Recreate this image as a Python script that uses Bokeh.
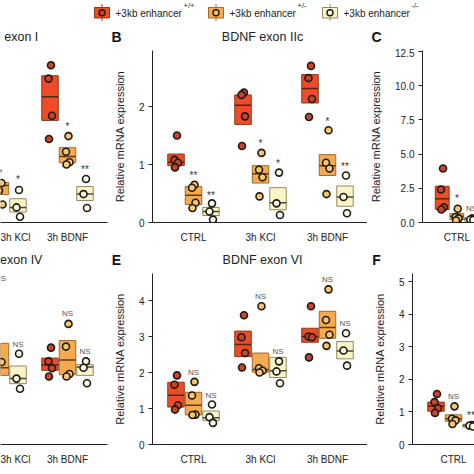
from bokeh.plotting import figure
from bokeh.models import Range1d, FixedTicker, PrintfTickFormatter
from bokeh.layouts import column, row
from bokeh.embed import file_html
from bokeh.resources import INLINE
from bokeh.core.properties import value

# ---------------- data ----------------
groups = ["CTRL", "3h KCl", "3h BDNF"]
genotypes = ["+/+", "+/-", "-/-"]
legend_text = "+3kb enhancer"
ylabel = "Relative mRNA expression"
titles = ["BDNF exon I", "BDNF exon IIc", "BDNF exon IV", "BDNF exon VI"]

# 9 columns per panel: CTRL(+/+,+/-,-/-), 3h KCl(...), 3h BDNF(...); None = outside the crop
A_lo = [None, None, None, None, 0.48, 0.18, 1.76, 1.03, 0.38]
A_hi = [None, None, None, None, 0.69, 0.41, 2.53, 1.29, 0.62]
A_mid = [None, None, None, None, 0.64, 0.26, 2.17, 1.14, 0.49]
A_pts = [[], [], [], [], [0.68, 0.55, 0.31], [0.56, 0.26, 0.10],
         [2.71, 2.48, 1.84, 1.44], [1.49, 1.22, 1.04, 1.00], [0.75, 0.49, 0.25]]
A_ann = [None, None, None, None, "*", "*", None, "*", "**"]
A_ann_y = [None, None, None, None, 0.90, 0.79, None, 1.70, 0.97]

B_lo = [0.98, 0.31, 0.12, 1.69, 0.68, 0.22, 2.06, 0.81, 0.28]
B_hi = [1.18, 0.62, 0.26, 2.20, 0.98, 0.60, 2.55, 1.17, 0.63]
B_mid = [1.04, 0.47, 0.19, 2.02, 0.84, 0.34, 2.31, 0.98, 0.44]
B_pts = [[1.50, 1.08, 1.03, 0.95], [0.65, 0.60, 0.34, 0.25], [0.33, 0.19, 0.05],
         [2.24, 2.20, 1.83, 1.32], [1.20, 0.91, 0.78, 0.45], [0.86, 0.33, 0.13],
         [2.70, 2.49, 2.13, 1.82], [1.59, 1.03, 0.93, 0.49], [0.81, 0.44, 0.16]]
B_ann = [None, "**", "**", None, "*", "*", None, "*", "**"]
B_ann_y = [None, 0.86, 0.52, None, 1.41, 1.07, None, 1.79, 1.01]

C_lo = [0.95, 0.22, 0.10, None, None, None, None, None, None]
C_hi = [2.65, 0.66, 0.35, None, None, None, None, None, None]
C_mid = [1.73, 0.46, 0.25, None, None, None, None, None, None]
C_pts = [[3.95, 2.41, 1.12, 0.95], [1.00, 0.40, 0.30, 0.15], [0.30, 0.22, 0.18],
         [], [], [], [], [], []]
C_ann = [None, "*", "NS", None, None, None, None, None, None]
C_ann_y = [None, 1.95, 1.00, None, None, None, None, None, None]

D_lo = [None, None, None, None, 1.92, 1.69, 2.06, 1.94, 1.92]
D_hi = [None, None, None, None, 2.81, 2.18, 2.40, 2.89, 2.22]
D_mid = [None, None, None, None, 2.13, 1.83, 2.21, 2.35, 2.15]
D_pts = [[], [], [], [], [2.29], [2.52, 1.83, 1.55],
         [2.69, 2.31, 2.12, 1.89], [3.35, 2.72, 1.96, 1.89], [2.31, 2.13, 1.70]]
D_ann = [None, None, None, None, "NS", "NS", None, "NS", "NS"]
D_ann_y = [None, None, None, None, 4.61, 2.77, None, 3.64, 2.58]

E_lo = [1.04, 0.82, 0.67, 2.44, 2.01, 1.86, 2.84, 2.95, 2.38]
E_hi = [1.73, 1.45, 0.93, 3.15, 2.54, 2.42, 3.23, 3.70, 2.86]
E_mid = [1.37, 1.09, 0.74, 2.78, 2.08, 2.05, 3.00, 3.25, 2.60]
E_pts = [[1.92, 1.66, 1.09, 0.97], [1.74, 1.36, 0.83, 0.82], [1.11, 0.76, 0.60],
         [3.59, 2.98, 2.54, 2.14], [3.84, 2.12, 2.05, 2.00], [2.31, 2.03, 1.70],
         [3.84, 3.00, 2.98, 2.42], [4.31, 3.46, 3.05, 2.74], [3.09, 2.61, 2.19]]
E_ann = [None, "NS", "NS", None, "NS", "NS", None, "NS", "NS"]
E_ann_y = [None, 1.99, 1.37, None, 4.10, 2.57, None, 4.58, 3.36]

F_lo = [1.02, 0.71, 0.53, None, None, None, None, None, None]
F_hi = [1.30, 0.91, 0.62, None, None, None, None, None, None]
F_mid = [1.17, 0.79, 0.58, None, None, None, None, None, None]
F_pts = [[1.55, 1.30, 1.11, 0.97], [1.17, 0.79, 0.74, 0.63], [0.60, 0.58, 0.55],
         [], [], [], [], [], []]
F_ann = [None, "NS", "**", None, None, None, None, None, None]
F_ann_y = [None, 1.48, 0.97, None, None, None, None, None, None]

B_ticks = [0, 1, 2]
C_ticks = [0, 2.5, 5, 7.5, 10, 12.5]
E_ticks = [0, 1, 2, 3, 4]
F_ticks = [0, 1, 2, 3, 4, 5]

# ---------------- styles ----------------
FONT = "Liberation Sans"
STY = [
    dict(box="#ef4b27", edge="#8a3a1e", med="#5a2412", pt="#c9442c"),
    dict(box="#f6aa4f", edge="#9a6a30", med="#5e3c16", pt="#f7c670"),
    dict(box="#fcf4c6", edge="#8c8a68", med="#4a483a", pt="#fffbe8"),
]
UNIT = 67.0            # px per group
OFF = 17.5 / UNIT      # genotype offset
BOXW = 16.5 / UNIT     # box width
JIT = [1.0, -1.5, 2.0, -1.0]   # px jitter pattern for points

COL_W = [110, 257, 107]          # figure widths per column
COL_BL = [0, 42, 45]             # left borders
COL_XS = [1.0, -41 / UNIT, -41 / UNIT]   # x range starts


def strip(h):
    s = figure(width=474, height=h, x_range=Range1d(0, 474), y_range=Range1d(h, 0),
               output_backend="svg", toolbar_location=None, min_border=0,
               x_axis_location=None, y_axis_location=None)
    s.outline_line_color = None
    s.grid.visible = False
    return s


def panel(lo, hi, mid, pts, ann, ann_y, col, ppu_y, height, bt, bb, yticks=None, fmt=None):
    width, bl = COL_W[col], COL_BL[col]
    br = 3 if col == 0 else 0
    x_start = COL_XS[col]
    fw = width - bl - br
    fh = height - bt - bb
    p = figure(width=width, height=height, x_range=Range1d(x_start, x_start + fw / UNIT),
               y_range=Range1d(0, fh / ppu_y), output_backend="svg", toolbar_location=None,
               min_border_left=bl, min_border_right=br, min_border_top=bt,
               min_border_bottom=bb, y_axis_location="left" if yticks else None)
    p.outline_line_color = None
    p.grid.visible = False
    p.background_fill_color = "white"
    p.border_fill_color = "white"

    xa = p.xaxis[0]
    xa.ticker = FixedTicker(ticks=[0, 1, 2])
    xa.major_label_overrides = {0: groups[0], 1: groups[1], 2: groups[2]}
    xa.major_tick_line_color = None
    xa.minor_tick_line_color = None
    xa.axis_line_color = "#222222"
    xa.major_label_text_font = FONT
    xa.major_label_text_font_size = "10px"
    xa.major_label_text_color = "#222222"
    xa.major_label_standoff = 3

    if yticks:
        ya = p.yaxis[0]
        ya.ticker = FixedTicker(ticks=yticks)
        if fmt:
            ya.formatter = PrintfTickFormatter(format=fmt)
        ya.minor_tick_line_color = None
        ya.major_tick_in = 0
        ya.major_tick_out = 4
        ya.axis_line_color = "#222222"
        ya.major_tick_line_color = "#222222"
        ya.major_label_text_font = FONT
        ya.major_label_text_font_size = "10px"
        ya.major_label_text_color = "#222222"
        ya.major_label_standoff = 4
        ya.axis_label = ylabel
        ya.axis_label_text_font = FONT
        ya.axis_label_text_font_style = "normal"
        ya.axis_label_text_font_size = "11px"
        ya.axis_label_text_color = "#222222"
        ya.axis_label_standoff = 10

    for k in range(9):
        if lo[k] is None and not pts[k]:
            continue
        g, s = divmod(k, 3)
        st = STY[s]
        x = g + (s - 1) * OFF
        if lo[k] is not None:
            p.vbar(x=[x], width=BOXW, bottom=[lo[k]], top=[hi[k]], fill_color=st["box"],
                   line_color=st["edge"], line_width=1)
            p.segment(x0=[x - BOXW / 2], x1=[x + BOXW / 2], y0=[mid[k]], y1=[mid[k]],
                      line_color=st["med"], line_width=1.5)
        xs = [x + JIT[i % len(JIT)] / UNIT for i in range(len(pts[k]))]
        p.scatter(x=xs, y=pts[k], size=7, marker="circle", fill_color=st["pt"],
                  line_color="#1e1a16", line_width=1.6)
        if ann[k]:
            is_star = "*" in ann[k]
            p.text(x=[x], y=[ann_y[k]], text=[ann[k]], text_align="center",
                   text_baseline="middle", text_font=value(FONT),
                   text_font_size=value("10px" if is_star else "8px"),
                   text_color=value("#333333" if is_star else "#555555"),
                   y_offset=3 if is_star else 0)
    return p


def kcl_center(col):
    left = sum(COL_W[:col]) + COL_BL[col]
    return left + (1 - COL_XS[col]) * UNIT


def frame_left(col):
    return sum(COL_W[:col]) + COL_BL[col]


def header(h, ttl, letters, ty):
    s = strip(h)
    for col, t in ttl:
        s.text(x=[kcl_center(col) + 2], y=[ty], text=[t], text_align="center",
               text_baseline="middle", text_font=value(FONT),
               text_font_size=value("12.5px"), text_color=value("#222222"))
    for col, t in letters:
        s.text(x=[frame_left(col) - 36], y=[ty + 0.5], text=[t], text_align="center",
               text_baseline="middle", text_font=value(FONT), text_font_style="bold",
               text_font_size=value("14px"), text_color=value("#111111"))
    return s


# top row frames 50..222 ; bottom row frames 273..444
A = panel(A_lo, A_hi, A_mid, A_pts, A_ann, A_ann_y, 0, 58.0, 202, 2, 28)
B = panel(B_lo, B_hi, B_mid, B_pts, B_ann, B_ann_y, 1, 58.0, 202, 2, 28, B_ticks)
C = panel(C_lo, C_hi, C_mid, C_pts, C_ann, C_ann_y, 2, 13.68, 202, 2, 28, C_ticks, "%.1f")
D = panel(D_lo, D_hi, D_mid, D_pts, D_ann, D_ann_y, 0, 36.0, 204, 3, 30)
E = panel(E_lo, E_hi, E_mid, E_pts, E_ann, E_ann_y, 1, 36.0, 204, 3, 30, E_ticks)
F = panel(F_lo, F_hi, F_mid, F_pts, F_ann, F_ann_y, 2, 32.6, 204, 3, 30, F_ticks)

H1 = header(22, [(0, titles[0]), (1, titles[1])], [(1, "B"), (2, "C")], 10)
H2 = header(20, [(0, titles[2]), (1, titles[3])], [(1, "E"), (2, "F")], 9)

# ---------------- legend strip ----------------
L = strip(26)
for i, st in enumerate(STY):
    x0 = 94 + i * 114
    L.segment(x0=[x0 + 7.5], x1=[x0 + 7.5], y0=[3.5], y1=[20.5], line_color=st["edge"],
              line_width=1)
    L.quad(left=[x0], right=[x0 + 15], top=[7], bottom=[17.5], fill_color=st["box"],
           line_color=st["edge"], line_width=1)
    L.scatter(x=[x0 + 7.5], y=[12.2], size=6, fill_color=st["pt"], line_color="#1e1a16",
              line_width=1.4)
    L.text(x=[x0 + 21], y=[13], text=[legend_text], text_baseline="middle",
           text_font=value(FONT), text_font_size=value("10px"), text_color=value("#222222"))
    L.text(x=[x0 + 89], y=[4.5], text=[genotypes[i]], text_baseline="middle",
           text_font=value(FONT), text_font_size=value("7.5px"), text_color=value("#222222"))

root = column(L, H1, row(A, B, C), H2, row(D, E, F))
open("out.html", "w").write(file_html(root, INLINE))
